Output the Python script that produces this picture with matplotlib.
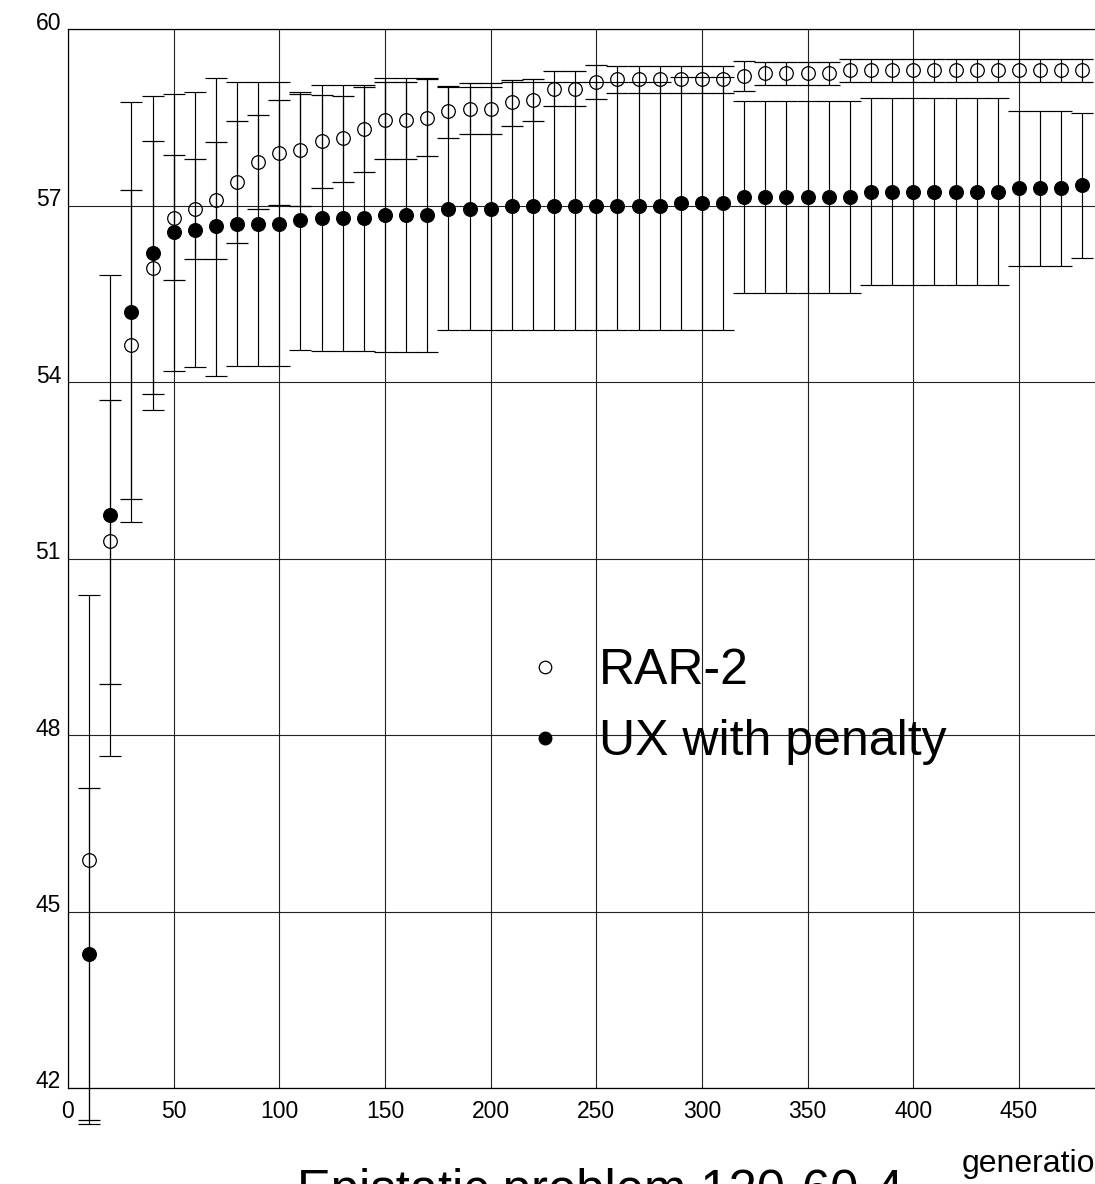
import matplotlib
matplotlib.use("Agg")
import matplotlib.pyplot as plt
from matplotlib.lines import Line2D
from matplotlib.transforms import ScaledTranslation

plt.rcParams['font.family'] = ['Liberation Sans', 'DejaVu Sans']

# generations at which the population was sampled
gens = [10, 20, 30, 40, 50, 60, 70, 80, 90, 100, 110, 120, 130, 140, 150, 160,
        170, 180, 190, 200, 210, 220, 230, 240, 250, 260, 270, 280, 290, 300,
        310, 320, 330, 340, 350, 360, 370, 380, 390, 400, 410, 420, 430, 440,
        450, 460, 470, 480]

# RAR-2 (open circles): mean and bar ends
rar_mean = [45.88, 51.30, 54.64, 55.95, 56.80, 56.95, 57.09, 57.40, 57.75, 57.90,
            57.94, 58.10, 58.15, 58.30, 58.45, 58.45, 58.50, 58.61, 58.65, 58.65,
            58.76, 58.80, 58.99, 58.99, 59.10, 59.15, 59.15, 59.15, 59.15, 59.15,
            59.15, 59.20, 59.25, 59.25, 59.25, 59.25, 59.30, 59.30, 59.30, 59.30,
            59.30, 59.30, 59.30, 59.30, 59.30, 59.30, 59.30, 59.30]
rar_hi = [47.10, 53.70, 57.27, 58.10, 57.86, 57.80, 58.08, 58.44, 58.54, 58.79,
          58.90, 58.89, 58.87, 59.02, 59.10, 59.10, 59.15, 59.04, 59.08, 59.08,
          59.13, 59.15, 59.29, 59.29, 59.40, 59.38, 59.38, 59.38, 59.38, 59.38,
          59.38, 59.46, 59.44, 59.44, 59.44, 59.44, 59.49, 59.49, 59.49, 59.49,
          59.49, 59.49, 59.49, 59.49, 59.49, 59.49, 59.49, 59.49]
rar_lo = [41.45, 48.87, 52.01, 53.80, 55.73, 56.09, 56.10, 56.36, 56.95, 57.01,
          57.00, 57.31, 57.41, 57.58, 57.80, 57.80, 57.85, 58.16, 58.22, 58.22,
          58.36, 58.44, 58.70, 58.70, 58.81, 58.92, 58.92, 58.92, 58.92, 58.92,
          58.92, 58.95, 59.06, 59.06, 59.06, 59.06, 59.10, 59.10, 59.10, 59.10,
          59.10, 59.10, 59.10, 59.10, 59.10, 59.10, 59.10, 59.10]

# UX with penalty (filled circles)
ux_mean = [44.27, 51.74, 55.19, 56.19, 56.55, 56.59, 56.65, 56.69, 56.69, 56.69,
           56.75, 56.79, 56.79, 56.79, 56.85, 56.85, 56.85, 56.95, 56.95, 56.95,
           57.00, 57.00, 57.00, 57.00, 57.00, 57.00, 57.00, 57.00, 57.04, 57.04,
           57.04, 57.15, 57.15, 57.15, 57.15, 57.15, 57.15, 57.24, 57.24, 57.24,
           57.24, 57.24, 57.24, 57.24, 57.30, 57.30, 57.30, 57.35]
ux_hi = [50.38, 55.83, 58.76, 58.86, 58.90, 58.94, 59.18, 59.11, 59.11, 59.11,
         58.94, 59.06, 59.06, 59.06, 59.18, 59.18, 59.18, 59.02, 59.02, 59.02,
         59.11, 59.11, 59.11, 59.11, 59.11, 59.11, 59.11, 59.11, 59.19, 59.19,
         59.19, 58.78, 58.78, 58.78, 58.78, 58.78, 58.78, 58.84, 58.84, 58.84,
         58.84, 58.84, 58.84, 58.84, 58.61, 58.61, 58.61, 58.58]
ux_lo = [41.38, 47.64, 51.63, 53.53, 54.19, 54.25, 54.11, 54.28, 54.28, 54.28,
         54.55, 54.53, 54.53, 54.53, 54.52, 54.52, 54.52, 54.89, 54.89, 54.89,
         54.89, 54.89, 54.89, 54.89, 54.89, 54.89, 54.89, 54.89, 54.89, 54.89,
         54.89, 55.51, 55.51, 55.51, 55.51, 55.51, 55.51, 55.65, 55.65, 55.65,
         55.65, 55.65, 55.65, 55.65, 55.98, 55.98, 55.98, 56.11]

x_ticks = [0, 50, 100, 150, 200, 250, 300, 350, 400, 450]
y_ticks = [42, 45, 48, 51, 54, 57, 60]

fig = plt.figure(figsize=(10.95, 11.84), dpi=100)
ax = fig.add_axes([68 / 1095, 96 / 1184, 1 - 68 / 1095, 1058.7 / 1184])


def bars(mean, lo, hi):
    return [[m - l for m, l in zip(mean, lo)], [h - m for m, h in zip(mean, hi)]]


ux = ax.errorbar(gens, ux_mean, yerr=bars(ux_mean, ux_lo, ux_hi), fmt='o',
                 color='black', ms=9.8, capsize=7.6, elinewidth=0.85,
                 capthick=0.85, zorder=3)
rar = ax.errorbar(gens, rar_mean, yerr=bars(rar_mean, rar_lo, rar_hi), fmt='o',
                  color='black', mfc='none', mec='black', mew=0.9, ms=9.8,
                  capsize=7.6, elinewidth=0.85, capthick=0.85, zorder=3)
for cont in (ux, rar):
    for art in cont.get_children():
        art.set_clip_on(False)

ax.set_xlim(0, 486)
ax.set_ylim(42, 60)
ax.set_xticks(x_ticks)
ax.set_yticks(y_ticks)
ax.grid(True, color='#222222', linewidth=0.8)
ax.set_axisbelow(True)
ax.spines['right'].set_visible(False)
for s in ('left', 'top', 'bottom'):
    ax.spines[s].set_linewidth(0.9)
ax.tick_params(axis='both', length=0, labelsize=16.5)
ax.tick_params(axis='x', pad=9)
ax.tick_params(axis='y', pad=5)
shift = ScaledTranslation(0, 8.5 / 100, fig.dpi_scale_trans)
for lab in ax.get_yticklabels():
    lab.set_transform(lab.get_transform() + shift)

handles = [
    Line2D([], [], ls='none', marker='o', ms=9, mfc='none', mec='black', mew=0.9),
    Line2D([], [], ls='none', marker='o', ms=9, color='black'),
]
ax.legend(handles, ['RAR-2', 'UX with penalty'], loc='center left',
          bbox_to_anchor=(520 / 1095, 1 - 706.5 / 1184),
          bbox_transform=fig.transFigure, frameon=False, fontsize=36,
          handlelength=1.0, handletextpad=0.58, borderpad=0, borderaxespad=0,
          numpoints=1)

# title and axis name sit partly below / right of the page edge, as in the source
fig.text(600 / 1095, -0.0186, 'Epistatic problem 120-60-4', fontsize=36.5,
         ha='center', va='baseline')
fig.text(962 / 1095, 12 / 1184, 'generation', fontsize=23, ha='left',
         va='baseline')

fig.savefig('out.png', dpi=100)
